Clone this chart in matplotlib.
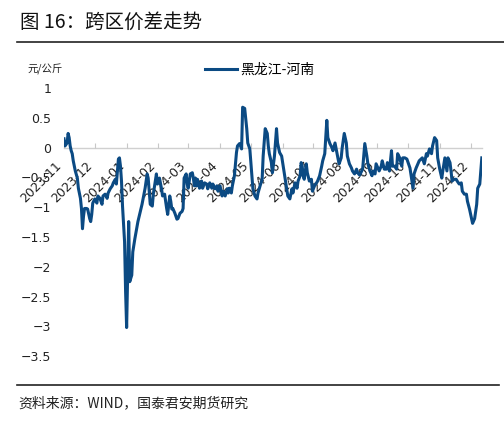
import matplotlib
matplotlib.use("Agg")
import matplotlib.pyplot as plt
import matplotlib.dates as mdates
import numpy as np
import pandas as pd

plt.rcParams['font.family'] = ['Noto Sans CJK SC', 'DejaVu Sans']

series_name = "黑龙江-河南"
title = "图 16：跨区价差走势"
unit = "元/公斤"
source = "资料来源：WIND，国泰君安期货研究"

dates = [
    "2023-11-01", "2023-11-02", "2023-11-04", "2023-11-05", "2023-11-06", "2023-11-07", "2023-11-08",
    "2023-11-09", "2023-11-10", "2023-11-12", "2023-11-14", "2023-11-15", "2023-11-17", "2023-11-18",
    "2023-11-19", "2023-11-20", "2023-11-21", "2023-11-23", "2023-11-24", "2023-11-26", "2023-11-27",
    "2023-11-28", "2023-11-29", "2023-12-01", "2023-12-03", "2023-12-04", "2023-12-06", "2023-12-08",
    "2023-12-09", "2023-12-11", "2023-12-13", "2023-12-14", "2023-12-16", "2023-12-18", "2023-12-19",
    "2023-12-21", "2023-12-22", "2023-12-23", "2023-12-24", "2023-12-25", "2023-12-26", "2023-12-27",
    "2023-12-28", "2023-12-30", "2023-12-31", "2024-01-01", "2024-01-03", "2024-01-04", "2024-01-06",
    "2024-01-07", "2024-01-09", "2024-01-12", "2024-01-16", "2024-01-19", "2024-01-21", "2024-01-22",
    "2024-01-24", "2024-01-26", "2024-01-27", "2024-01-29", "2024-01-30", "2024-01-31", "2024-02-02",
    "2024-02-04", "2024-02-05", "2024-02-07", "2024-02-09", "2024-02-10", "2024-02-12", "2024-02-13",
    "2024-02-14", "2024-02-15", "2024-02-17", "2024-02-19", "2024-02-20", "2024-02-22", "2024-02-24",
    "2024-02-25", "2024-02-26", "2024-02-28", "2024-02-29", "2024-03-01", "2024-03-03", "2024-03-05",
    "2024-03-06", "2024-03-07", "2024-03-08", "2024-03-09", "2024-03-10", "2024-03-12", "2024-03-14",
    "2024-03-15", "2024-03-17", "2024-03-19", "2024-03-20", "2024-03-22", "2024-03-24", "2024-03-25",
    "2024-03-27", "2024-03-29", "2024-03-30", "2024-04-01", "2024-04-03", "2024-04-04", "2024-04-06",
    "2024-04-08", "2024-04-09", "2024-04-10", "2024-04-12", "2024-04-13", "2024-04-15", "2024-04-17",
    "2024-04-18", "2024-04-20", "2024-04-22", "2024-04-23", "2024-04-25", "2024-04-27", "2024-04-28",
    "2024-04-30", "2024-05-02", "2024-05-03", "2024-05-05", "2024-05-07", "2024-05-08", "2024-05-10",
    "2024-05-12", "2024-05-13", "2024-05-15", "2024-05-17", "2024-05-18", "2024-05-19", "2024-05-21",
    "2024-05-22", "2024-05-24", "2024-05-26", "2024-05-27", "2024-05-29", "2024-05-31", "2024-06-01",
    "2024-06-03", "2024-06-05", "2024-06-06", "2024-06-08", "2024-06-10", "2024-06-11", "2024-06-13",
    "2024-06-15", "2024-06-16", "2024-06-18", "2024-06-19", "2024-06-20", "2024-06-21", "2024-06-22",
    "2024-06-24", "2024-06-25", "2024-06-27", "2024-06-29", "2024-06-30", "2024-07-02", "2024-07-04",
    "2024-07-05", "2024-07-07", "2024-07-09", "2024-07-10", "2024-07-12", "2024-07-14", "2024-07-15",
    "2024-07-17", "2024-07-19", "2024-07-20", "2024-07-22", "2024-07-24", "2024-07-25", "2024-07-26",
    "2024-07-28", "2024-07-29", "2024-07-31", "2024-08-02", "2024-08-03", "2024-08-05", "2024-08-07",
    "2024-08-08", "2024-08-10", "2024-08-12", "2024-08-13", "2024-08-15", "2024-08-17", "2024-08-18",
    "2024-08-20", "2024-08-22", "2024-08-23", "2024-08-25", "2024-08-27", "2024-08-28", "2024-08-30",
    "2024-08-31", "2024-09-01", "2024-09-03", "2024-09-05", "2024-09-06", "2024-09-08", "2024-09-10",
    "2024-09-11", "2024-09-13", "2024-09-15", "2024-09-16", "2024-09-18", "2024-09-20", "2024-09-21",
    "2024-09-23", "2024-09-25", "2024-09-26", "2024-09-28", "2024-09-30", "2024-10-03", "2024-10-06",
    "2024-10-07", "2024-10-09", "2024-10-12", "2024-10-15", "2024-10-17", "2024-10-19", "2024-10-20",
    "2024-10-22", "2024-10-24", "2024-10-25", "2024-10-27", "2024-10-29", "2024-10-30", "2024-11-01",
    "2024-11-03", "2024-11-04", "2024-11-06", "2024-11-08", "2024-11-09", "2024-11-11", "2024-11-12",
    "2024-11-13", "2024-11-15", "2024-11-17", "2024-11-18", "2024-11-20", "2024-11-22", "2024-11-23",
    "2024-11-25", "2024-11-27", "2024-11-28", "2024-11-30", "2024-12-02", "2024-12-03", "2024-12-05",
    "2024-12-07", "2024-12-08", "2024-12-10", "2024-12-12",
]

values = [
    0.15, 0.03, 0.08, 0.24, 0.17, 0.03, -0.05,
    -0.10, -0.22, -0.39, -0.51, -0.68, -0.85, -1.02,
    -1.36, -1.15, -1.02, -1.02, -1.03, -1.19, -1.24,
    -1.12, -0.93, -0.86, -0.93, -0.81, -0.85, -0.95,
    -0.81, -0.78, -0.85, -0.76, -0.69, -0.64, -0.59,
    -0.53, -0.61, -0.39, -0.19, -0.17, -0.31, -0.56,
    -0.98, -1.58, -2.42, -3.02, -1.24, -2.25, -2.14,
    -1.75, -1.53, -1.24, -0.95, -0.68, -0.44, -0.51,
    -0.95, -0.98, -0.78, -0.56, -0.44, -0.61, -0.51,
    -0.69, -0.81, -0.78, -1.02, -1.12, -0.81, -0.90,
    -1.03, -1.02, -1.10, -1.20, -1.19, -1.10, -1.07,
    -1.02, -0.51, -0.44, -0.61, -0.68, -0.44, -0.42,
    -0.51, -0.64, -0.51, -0.64, -0.53, -0.68, -0.56,
    -0.68, -0.59, -0.61, -0.69, -0.59, -0.68, -0.61,
    -0.69, -0.64, -0.73, -0.64, -0.81, -0.73, -0.81,
    -0.69, -0.76, -0.68, -0.76, -0.64, -0.47, -0.08,
    0.03, 0.07, -0.02, 0.68, 0.66, 0.32, 0.08,
    -0.02, -0.47, -0.69, -0.81, -0.86, -0.76, -0.64,
    -0.53, -0.14, 0.32, 0.24, 0.03, -0.10, -0.25,
    -0.42, -0.14, 0.32, 0.08, -0.08, -0.14, -0.25,
    -0.47, -0.69, -0.81, -0.86, -0.69, -0.76, -0.59,
    -0.68, -0.56, -0.47, -0.25, -0.31, -0.47, -0.53,
    -0.27, -0.42, -0.56, -0.53, -0.73, -0.64, -0.59,
    -0.56, -0.47, -0.31, -0.22, -0.10, 0.46, 0.17,
    0.07, 0.00, -0.05, 0.08, -0.10, -0.19, -0.27,
    -0.17, 0.00, 0.24, 0.08, -0.14, -0.27, -0.34,
    -0.39, -0.44, -0.36, -0.42, -0.46, -0.39, -0.34,
    0.07, -0.14, -0.27, -0.39, -0.47, -0.39, -0.44,
    -0.27, -0.31, -0.39, -0.31, -0.22, -0.36, -0.36,
    -0.25, -0.39, -0.05, -0.31, -0.31, -0.36, -0.10,
    -0.17, -0.31, -0.17, -0.17, -0.19, -0.34, -0.68,
    -0.44, -0.34, -0.22, -0.17, -0.27, -0.10, -0.14,
    -0.02, -0.10, 0.03, 0.17, 0.12, -0.17, -0.36,
    -0.51, -0.39, -0.17, -0.39, -0.17, -0.25, -0.39,
    -0.56, -0.53, -0.53, -0.56, -0.61, -0.59, -0.73,
    -0.78, -0.78, -0.90, -1.03, -1.19, -1.27, -1.19,
    -0.95, -0.68, -0.61, -0.17,
]

y_ticks = [1, 0.5, 0, -0.5, -1, -1.5, -2, -2.5, -3, -3.5]

x = pd.to_datetime(dates)

fig = plt.figure(figsize=(5.04, 4.26), dpi=100)
ax = fig.add_axes([0.127, 0.164, 0.829, 0.629])

line_color = "#0b4a83"
ax.plot(x, values, color=line_color, lw=2.2, label=series_name, solid_joinstyle='round')

ax.set_xlim(x[0], x[-1])
ax.set_ylim(-3.5, 1)
ax.set_yticks(y_ticks)
ax.yaxis.set_major_formatter(plt.FuncFormatter(lambda v, p: ("%g" % v).replace("-", "−")))

ax.xaxis.set_major_locator(mdates.MonthLocator())
ax.xaxis.set_major_formatter(mdates.DateFormatter("%Y-%m"))

for s in ["top", "right", "left"]:
    ax.spines[s].set_visible(False)
ax.spines["bottom"].set_position(("data", 0))
ax.spines["bottom"].set_color("#d0d0d0")
ax.spines["bottom"].set_linewidth(1.0)
ax.spines["bottom"].set_zorder(0)

ax.tick_params(axis="x", direction="in", length=3.5, color="#c8c8c8", pad=8,
               labelsize=9, labelcolor="#222222")
ax.tick_params(axis="y", length=0, pad=9, labelsize=9, labelcolor="#222222")
for lab in ax.get_xticklabels():
    lab.set_rotation(45)
    lab.set_ha("right")
    lab.set_va("top")
    lab.set_family(["DejaVu Sans"])
for lab in ax.get_yticklabels():
    lab.set_family(["DejaVu Sans"])

fig.text(0.040, 0.948, title, fontsize=14, va="center", ha="left", color="#111111")
fig.add_artist(plt.Line2D([0.034, 1.0], [0.901, 0.901], color="#222222", lw=1.2))
fig.text(0.054, 0.836, unit, fontsize=7.5, va="center", ha="left", color="#222222")
fig.legend(loc="center", bbox_to_anchor=(0.515, 0.836), frameon=False, fontsize=10,
           handlelength=2.3, handletextpad=0.2, borderpad=0)
fig.add_artist(plt.Line2D([0.034, 0.99], [0.096, 0.096], color="#222222", lw=1.2))
fig.text(0.036, 0.054, source, fontsize=10, va="center", ha="left", color="#222222")

fig.savefig("out.png", dpi=100)
